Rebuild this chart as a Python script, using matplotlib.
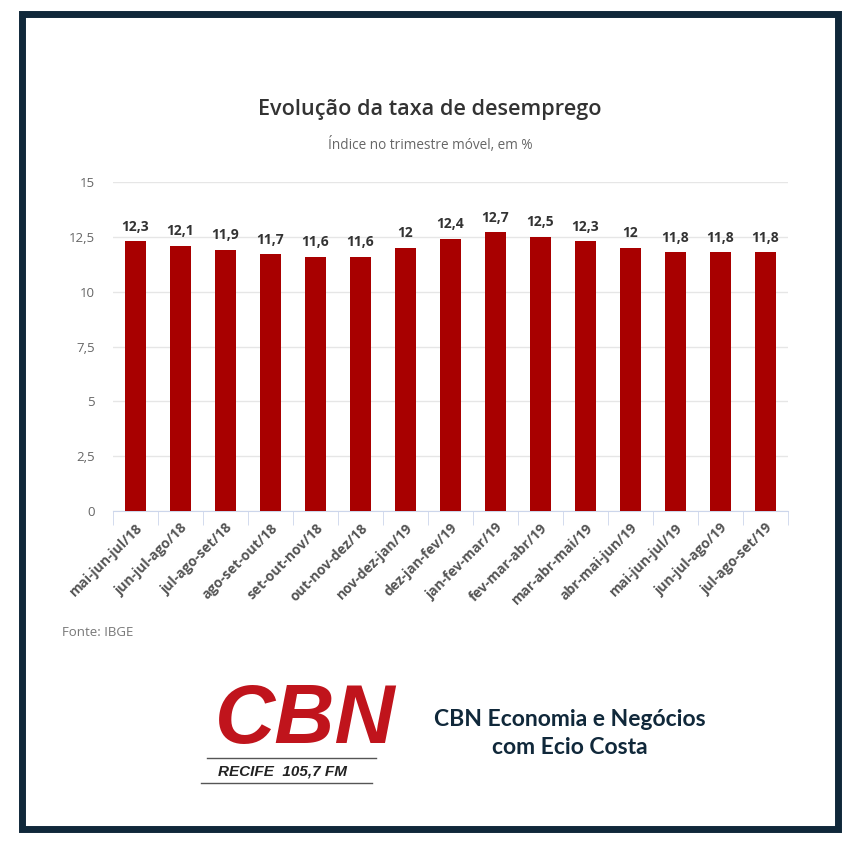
import matplotlib
matplotlib.use('Agg')
import matplotlib.pyplot as plt
from matplotlib.patches import Rectangle
from matplotlib.lines import Line2D
import numpy as np

periods = ['mai-jun-jul/18', 'jun-jul-ago/18', 'jul-ago-set/18', 'ago-set-out/18',
           'set-out-nov/18', 'out-nov-dez/18', 'nov-dez-jan/19', 'dez-jan-fev/19',
           'jan-fev-mar/19', 'fev-mar-abr/19', 'mar-abr-mai/19', 'abr-mai-jun/19',
           'mai-jun-jul/19', 'jun-jul-ago/19', 'jul-ago-set/19']
rates = [12.3, 12.1, 11.9, 11.7, 11.6, 11.6, 12.0, 12.4, 12.7, 12.5, 12.3, 12.0, 11.8, 11.8, 11.8]
y_ticks = [0, 2.5, 5, 7.5, 10, 12.5, 15]

W = H = 850
plt.rcParams['font.family'] = ['Open Sans', 'DejaVu Sans']

fig = plt.figure(figsize=(8.5, 8.5), dpi=100)
fig.patch.set_facecolor('white')


def px(x, y):
    return x / W, 1 - y / H


def fmt(v):
    s = f"{v:g}"
    return s.replace('.', ',')


# outer frame
frame = Rectangle(px(22, 829), (838 - 22) / W, (829 - 14) / H, transform=fig.transFigure,
                  fill=False, edgecolor='#10283a', linewidth=5)
fig.patches.append(frame)

# chart
ax_l, ax_r, ax_t, ax_b = 113, 788, 182, 511
ax = fig.add_axes([ax_l / W, 1 - ax_b / H, (ax_r - ax_l) / W, (ax_b - ax_t) / H])
x = np.arange(len(periods))
ax.bar(x, rates, width=0.47, color='#a80000', zorder=3)
for xi, v in zip(x, rates):
    ax.text(xi, v + 0.35, fmt(v), ha='center', va='bottom', fontsize=10,
            fontweight='bold', color='#333333')

ax.set_xlim(-0.5, len(periods) - 0.5)
ax.set_ylim(0, 15)
ax.set_yticks(y_ticks)
ax.set_yticklabels([fmt(t) for t in y_ticks], fontsize=9.5, color='#666666')
ax.yaxis.grid(True, color='#e6e6e6', linewidth=1, zorder=0)
ax.tick_params(axis='y', length=0, pad=13)
for s in ['top', 'right', 'left']:
    ax.spines[s].set_visible(False)
ax.spines['bottom'].set_color('#ccd6eb')

ax.set_xticks(x)
ax.set_xticklabels(periods, rotation=45, ha='right', rotation_mode='anchor',
                   fontsize=10, fontweight='bold', color='#555555')
ax.tick_params(axis='x', length=0, pad=7)
ax.set_xticks(np.arange(len(periods) + 1) - 0.5, minor=True)
ax.tick_params(axis='x', which='minor', length=10, color='#ccd6eb')

# titles
fig.text(*px(430, 110), 'Evolução da taxa de desemprego', ha='center', va='center',
         fontsize=15.6, fontweight='semibold', color='#333333')
fig.text(*px(430, 145), 'Índice no trimestre móvel, em %', ha='center', va='center',
         fontsize=9.8, color='#666666')
fig.text(*px(62, 633), 'Fonte: IBGE', ha='left', va='center', fontsize=9.5, color='#777777')

# logo
fig.text(*px(305, 721), 'CBN', ha='center', va='center', fontsize=60, fontweight='bold',
         fontstyle='italic', color='#c0141c', family=['Liberation Sans', 'DejaVu Sans'])
fig.lines.append(Line2D([207 / W, 376 / W], [1 - 758 / H] * 2, transform=fig.transFigure,
                        color='#555555', linewidth=1))
fig.lines.append(Line2D([201 / W, 372 / W], [1 - 783 / H] * 2, transform=fig.transFigure,
                        color='#555555', linewidth=1))
fig.text(*px(283, 771), 'RECIFE  105,7 FM', ha='center', va='center', fontsize=11,
         fontweight='bold', fontstyle='italic', color='#222222',
         family=['Liberation Sans', 'DejaVu Sans'])
fig.text(*px(570, 720), 'CBN Economia e Negócios', ha='center', va='center', fontsize=16.5,
         fontweight='bold', color='#10283a', family=['Lato', 'DejaVu Sans'])
fig.text(*px(570, 748), 'com Ecio Costa', ha='center', va='center', fontsize=16.5,
         fontweight='bold', color='#10283a', family=['Lato', 'DejaVu Sans'])

fig.savefig('out.png', dpi=100, facecolor='white')
